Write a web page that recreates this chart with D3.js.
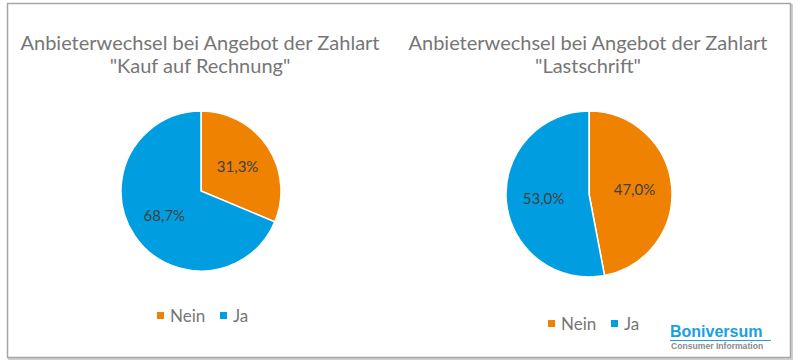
<!DOCTYPE html>
<html>
<head>
<meta charset="utf-8">
<script src="https://cdn.jsdelivr.net/npm/d3@7"></script>
<style>
  body { margin: 0; background: #fff; }
  svg { display: block; }
</style>
</head>
<body>
<div id="chart"></div>
<script>
// Data
const categories = ['Nein', 'Ja'];
const rechnungValues = [31.3, 68.7];
const lastschriftValues = [47.0, 53.0];
const titles = [
  ['Anbieterwechsel bei Angebot der Zahlart', '"Kauf auf Rechnung"'],
  ['Anbieterwechsel bei Angebot der Zahlart', '"Lastschrift"']
];

const width = 800, height = 364;
const font = 'Lato, "Open Sans", sans-serif';

const color = d3.scaleOrdinal()
  .domain(categories)
  .range(['#ef8200', '#009ee0']);

const svg = d3.select('#chart').append('svg')
  .attr('width', width)
  .attr('height', height);

// Frame with a little shadow
svg.append('rect')
  .attr('x', 9).attr('y', 5)
  .attr('width', 783).attr('height', 354)
  .attr('fill', 'none')
  .attr('stroke', '#d0d0d0')
  .attr('stroke-width', 2);
svg.append('rect')
  .attr('x', 7.5).attr('y', 3.5)
  .attr('width', 783).attr('height', 354)
  .attr('fill', '#fff')
  .attr('stroke', '#a6a6a6')
  .attr('stroke-width', 1.5);

// Pie panels
const panels = [
  { values: rechnungValues, title: titles[0], cx: 201, cy: 191, r: 80, titleX: 200, legendX: 157, legendY: 316 },
  { values: lastschriftValues, title: titles[1], cx: 589, cy: 194, r: 83, titleX: 588, legendX: 548, legendY: 324 }
];

const pie = d3.pie().sort(null).value(d => d.value);

panels.forEach(p => {
  const g = svg.append('g');

  // Title (two lines)
  g.append('text')
    .attr('x', p.titleX)
    .attr('y', 50)
    .attr('text-anchor', 'middle')
    .style('font-family', font)
    .style('font-size', '20px')
    .style('fill', '#767676')
    .selectAll('tspan')
    .data(p.title)
    .join('tspan')
      .attr('x', p.titleX)
      .attr('dy', (d, i) => i === 0 ? 0 : 23)
      .text(d => d);

  const data = pie(categories.map((c, i) => ({ name: c, value: p.values[i] })));
  const arc = d3.arc().innerRadius(0).outerRadius(p.r);
  const labelArc = d3.arc().innerRadius(p.r * 0.55).outerRadius(p.r * 0.55);

  const pieG = g.append('g')
    .attr('transform', `translate(${p.cx},${p.cy})`);

  pieG.selectAll('path')
    .data(data)
    .join('path')
      .attr('d', arc)
      .attr('fill', d => color(d.data.name))
      .attr('stroke', '#fff')
      .attr('stroke-width', 1.5);

  pieG.selectAll('text')
    .data(data)
    .join('text')
      .attr('transform', d => `translate(${labelArc.centroid(d)})`)
      .attr('text-anchor', 'middle')
      .attr('dy', '0.35em')
      .style('font-family', font)
      .style('font-size', '15px')
      .style('fill', '#404040')
      .text(d => d3.format('.1f')(d.data.value).replace('.', ',') + '%');

  // Legend
  const legend = g.append('g')
    .attr('transform', `translate(${p.legendX},${p.legendY})`);
  const items = legend.selectAll('g')
    .data(categories)
    .join('g')
      .attr('transform', (d, i) => `translate(${i * 63},0)`);
  items.append('rect')
    .attr('x', 0).attr('y', -4)
    .attr('width', 7).attr('height', 7)
    .attr('fill', d => color(d));
  items.append('text')
    .attr('x', 13)
    .attr('y', 6)
    .style('font-family', font)
    .style('font-size', '17px')
    .style('fill', '#767676')
    .text(d => d);
});

// Logo
const logo = svg.append('g');
logo.append('text')
  .attr('x', 670)
  .attr('y', 337)
  .style('font-family', 'Arial, "Liberation Sans", sans-serif')
  .style('font-size', '16px')
  .style('font-weight', 'bold')
  .style('fill', '#1a9fe0')
  .text('Boniversum');
logo.append('line')
  .attr('x1', 670).attr('x2', 771)
  .attr('y1', 340.5).attr('y2', 340.5)
  .attr('stroke', '#1a9fe0')
  .attr('stroke-width', 1);
logo.append('text')
  .attr('x', 671)
  .attr('y', 348.5)
  .style('font-family', 'Arial, "Liberation Sans", sans-serif')
  .style('font-size', '8.6px')
  .style('font-weight', 'bold')
  .style('fill', '#8a8a8a')
  .text('Consumer Information');
</script>
</body>
</html>
